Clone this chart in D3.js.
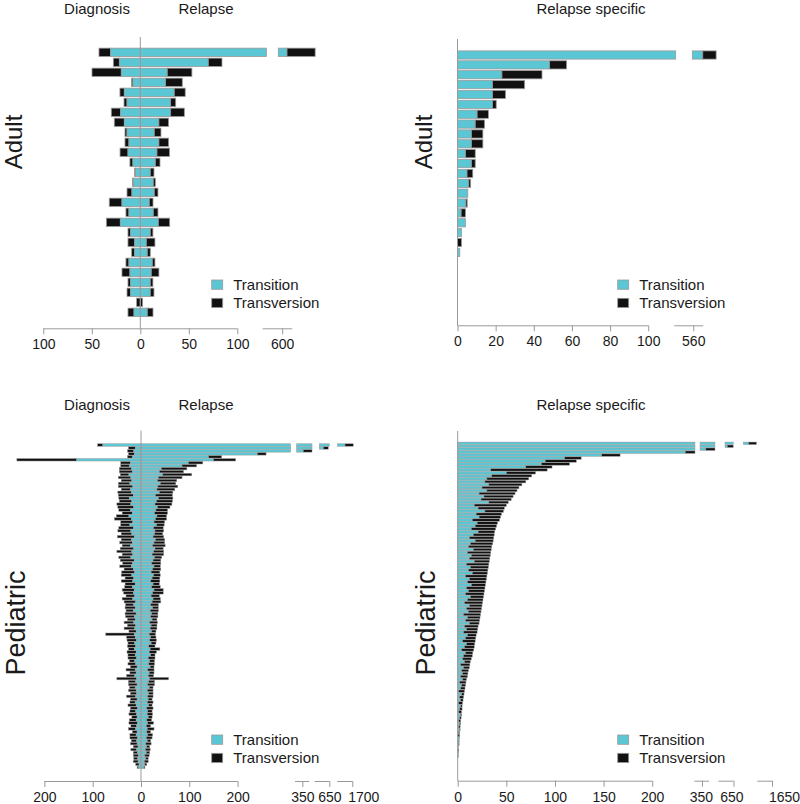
<!DOCTYPE html>
<html><head><meta charset="utf-8">
<script src="https://cdn.jsdelivr.net/npm/d3@7"></script>
<style>body{margin:0;background:#fff}</style>
</head><body><svg id="c" width="800" height="804"></svg>
<script>
// ---------------- DATA ----------------
// Adult: diagnosis vs relapse (27 samples)
const adultDiagTransition   = [30.6,21.6,19.6,7.6,16.5,13.7,20.3,16.5,13.7,11.7,12.7,7.6,4.8,6.9,8.6,18.9,11.7,20.6,10,5.8,5.8,11.7,10.7,10,10,0,6.5];
const adultDiagTransversion = [12,6.2,30.2,1.4,4.5,3.1,9.6,10.3,2.1,4.1,8.2,3.1,1,1,5.1,13.1,3.1,14.4,2.7,6.9,3.1,3.1,8.2,2.7,3.7,3.8,6.2];
const adultRelTransition    = [605,70.1,27.8,26.1,35,31.3,31.3,19.2,14.4,19.2,17.2,15.5,10.3,13.4,14.4,9.3,13.4,18.6,10.3,6.2,7.2,12.4,11.3,10.3,10.3,0,7.2];
const adultRelTransversion  = [29,14.1,25.4,17.2,11.3,5.2,14.1,10,6.9,10,13,4.8,3.8,2.1,3.8,3.8,4.8,11.7,2.7,8.9,3.1,2.7,7.9,2.7,3.8,2.4,5.9];
// Adult: relapse specific
const adultSpecTransition   = [565,48.3,23.3,18.4,18.4,18.4,10.3,9.3,7.3,7.3,4.2,7.3,5,5.9,5.4,4.4,1.9,4.2,2.1,0,1.2,0,0,0,0,0,0];
const adultSpecTransversion = [7,8.9,21,16.8,6.8,1.9,5.9,4.9,6,6,5.1,2,3,1,0,0.7,2.3,0,0,2.1,0,0,0,0,0,0,0];
// Pediatric: diagnosis vs relapse (110 samples)
const pedDiagTransition = [
 79,12,15,14,18,133,22,24,20,18, 25,21,19,23,17,22,20,16,24,19, 21,15,22,18,25,20,17,23,16,21,
 19,14,20,18,22,15,19,17,21,14, 18,20,16,13,19,15,17,12,18,14, 16,13,17,11,15,12,16,10,14,12,
 15,11,13,10,14,12,9,13,11,14, 10,12,9,13,11,8,12,10,13,9, 11,8,12,10,9,11,8,12,10,7,
 11,9,8,10,7,9,11,8,10,7, 9,8,6,9,7,5,7,6,4,5];
const pedDiagTransversion = [
 11,14,13,12,10,124,20,18,25,27, 18,26,22,24,30,19,28,31,22,26, 29,33,24,21,26,35,25,19,30,27,
 22,35,21,26,17,28,31,22,25,29, 20,24,19,27,22,18,24,21,16,25, 20,18,22,24,17,21,15,23,18,16,
 20,17,22,15,59,18,20,14,17,12, 19,15,18,11,16,14,19,13,17,41, 15,18,12,16,13,19,14,11,17,15,
 12,16,11,14,18,12,15,10,13,16, 11,14,10,12,9,11,8,10,7,3];
const pedRelTransition = [
 1685,635,352,241,140,150,98,85,42,38, 45,36,34,40,35,33,38,30,36,32, 29,34,31,28,33,30,27,32,26,29,
 28,25,30,27,24,29,26,23,28,25, 22,27,24,21,26,23,20,25,22,27, 24,21,25,23,20,24,19,22,20,23,
 18,21,19,22,17,20,18,21,16,19, 17,20,15,18,16,19,14,17,15,18, 16,14,17,13,16,14,15,13,16,12,
 14,13,15,12,14,11,13,12,14,11, 13,10,12,9,11,8,10,7,8,6];
const pedRelTransversion = [
 17,10,18,18,27,46,30,30,53,50, 60,49,40,32,41,37,28,35,30,33, 35,26,24,27,20,23,22,16,20,18,
 17,22,19,22,26,17,21,24,15,16, 19,13,17,18,14,16,19,13,18,19, 22,17,15,18,16,12,17,13,15,10,
 16,12,14,9,13,11,14,10,13,20, 15,9,14,10,12,8,13,10,11,39, 12,14,8,12,9,11,8,12,7,13,
 9,11,8,10,12,9,14,8,10,12, 7,11,6,10,7,9,5,8,4,2];
// Pediatric: relapse specific (110 samples)
const pedSpecTransition = [
 1626,638,354,234,148,110,90,86,70,34, 50,35,30,28,32,25,30,22,27,24, 32,17,21,28,19,22,15,20,18,14,
 21,16,12,18,13,11,16,10,14,12, 17,9,13,11,15,8,12,10,14,9, 11,8,13,10,7,12,9,11,6,10,
 8,12,7,9,6,10,8,5,9,7, 4,8,6,5,7,3,6,4,5,3, 5,2,4,3,1,4,2,3,1,3,
 2,1,3,2,1,2,1,2,1,0, 2,1,1,1,0,1,1,0,0,0];
const pedSpecTransversion = [
 8,6,9.4,10,19,17,32,29,27,58, 30,41,43,42,34,38,31,37,30,31, 20,33,27,19,26,22,28,21,22,25,
 17,21.5,25,18.5,23,24,18.5,24,19.5,21, 15.5,23,18.5,20,15.5,22,17.5,19,14.5,19, 16.5,19,13.5,16,18.5,13,15.5,13,17.5,13,
 14.5,10,14,11.5,14,9,10.5,13,8.5,10, 12.5,7.5,9,9,6,9.5,6,7,5.5,7, 4,6.5,4,4.5,6,2.5,4,2.5,4,1.5,
 2.5,3,1,1.5,2,1,1.5,0.5,1,2, 0,0.5,0.5,0,1,0,0,0,0,0];
// Axis ticks
const diagRelTicksAdult = [-100,-50,0,50,100];
const specTicksAdult = [0,20,40,60,80,100];
const diagRelTicksPed = [-200,-100,0,100,200];
const specTicksPed = [0,50,100,150,200];
const breakTicksAdultDR = [600];
const breakTicksAdultSpec = [560];
const breakTicksPedDR = [350,650,1700];
const breakTicksPedSpec = [350,650,1650];
const legendLabels = ["Transition","Transversion"];

// ---------------- DRAWING ----------------
const FONT = "'Liberation Sans', Arial, Helvetica, sans-serif";
const CYAN = '#5bc7d4', BLACK = '#111111', STROKE = '#9a9a9a', AXIS = '#9a9a9a', TXT = '#1a1a1a';
const FS = '15px', FS_TICK = '14px';
const svg = d3.select('#c').style('font-family', FONT);

function drawBars(g, x, segs, y, bh, rows, sw) {
  rows.forEach((d, i) => {
    const cy = y(i);
    const parts = [];
    if (d.lt !== undefined) {
      parts.push([-(d.lt + d.lv), -d.lt, BLACK]);
      parts.push([-d.lt, 0, CYAN]);
    }
    parts.push([0, d.rt, CYAN]);
    parts.push([d.rt, d.rt + d.rv, BLACK]);
    parts.forEach(([a, b, c]) => {
      if (b - a <= 0) return;
      segs.forEach(([s0, s1]) => {
        const lo = Math.max(a, s0), hi = Math.min(b, s1);
        if (hi > lo) {
          g.append('rect').attr('x', x(lo)).attr('y', cy - bh / 2)
            .attr('width', x(hi) - x(lo)).attr('height', bh)
            .attr('fill', c).attr('stroke', STROKE).attr('stroke-width', sw);
        }
      });
    });
  });
}

function drawAxis(x, yAxis, ticks, lineFrom, lineTo) {
  const g = svg.append('g').attr('transform', `translate(0,${yAxis})`)
    .call(d3.axisBottom(x).tickValues(ticks).tickFormat(v => Math.abs(v)).tickSize(6).tickPadding(5));
  g.select('.domain').remove();
  g.selectAll('.tick line').attr('stroke', AXIS);
  g.selectAll('.tick text').attr('fill', TXT).style('font-size', FS_TICK).style('font-family', FONT);
  g.append('line').attr('x1', lineFrom).attr('x2', lineTo).attr('y1', 0.5).attr('y2', 0.5)
    .attr('stroke', AXIS).attr('stroke-width', 1);
  return g;
}

function drawBreakAxis(x, yAxis, ticks, specs) {
  ticks.forEach((t, k) => {
    const s = specs[k];
    const g = drawAxis(x, yAxis, [t], x(t) - s[0], x(t) + s[1]);
    if (s[2]) g.selectAll('.tick text').attr('dx', s[2]);
  });
}

function legend(x0, y0) {
  [CYAN, BLACK].forEach((c, k) => {
    const yy = y0 + k * 18.3;
    svg.append('rect').attr('x', x0).attr('y', yy).attr('width', 11).attr('height', 9.3)
      .attr('fill', c).attr('stroke', STROKE).attr('stroke-width', 0.8);
    svg.append('text').attr('x', x0 + 21.5).attr('y', yy + 10).text(legendLabels[k])
      .attr('fill', TXT).style('font-size', FS);
  });
}

function title(txt, cx, by) {
  svg.append('text').attr('x', cx).attr('y', by).attr('text-anchor', 'middle')
    .attr('fill', TXT).style('font-size', FS).text(txt);
}
function rowLabel(txt, bx, cy, fs) {
  svg.append('text').attr('transform', `translate(${bx},${cy}) rotate(-90)`)
    .attr('text-anchor', 'middle').attr('fill', TXT).style('font-size', fs).text(txt);
}

// ---- Panel 1: Adult diagnosis/relapse ----
{
  const x = d3.scaleLinear().domain([-100, 0, 130, 596, 650])
    .range([43.3, 140.3, 266.4, 278.3, 278.3 + 54 * 0.97]);
  const segs = [[-100, 130], [596, 650]];
  const y = d3.scalePoint().domain(d3.range(adultRelTransition.length)).range([52.3, 312.3]);
  const rows = adultRelTransition.map((v, i) => ({ lt: adultDiagTransition[i], lv: adultDiagTransversion[i], rt: v, rv: adultRelTransversion[i] }));
  drawBars(svg.append('g'), x, segs, y, y.step() * 0.833, rows, 0.8);
  svg.append('line').attr('x1', x(0)).attr('x2', x(0)).attr('y1', 37).attr('y2', 328.3).attr('stroke', AXIS);
  drawAxis(x, 328.3, diagRelTicksAdult, x(-100), x(100));
  drawBreakAxis(x, 328.3, breakTicksAdultDR, [[19.6, 10, 0]]);
  legend(211.7, 280);
  title('Diagnosis', 97, 14); title('Relapse', 206, 14);
  rowLabel('Adult', 22, 142, '24px');
}
// ---- Panel 2: Adult relapse specific ----
{
  const x = d3.scaleLinear().domain([0, 114.4, 559.5, 600])
    .range([457.5, 675.7, 692.3, 692.3 + 40.5 * 1.907]);
  const segs = [[0, 114.4], [559.5, 600]];
  const y = d3.scalePoint().domain(d3.range(adultSpecTransition.length)).range([55, 311.6]);
  const rows = adultSpecTransition.map((v, i) => ({ rt: v, rv: adultSpecTransversion[i] }));
  drawBars(svg.append('g'), x, segs, y, y.step() * 0.833, rows, 0.8);
  svg.append('line').attr('x1', x(0)).attr('x2', x(0)).attr('y1', 39).attr('y2', 325.3).attr('stroke', AXIS);
  drawAxis(x, 325.3, specTicksAdult, x(0), x(100));
  drawBreakAxis(x, 325.3, breakTicksAdultSpec, [[19, 10, 0]]);
  legend(617.7, 280);
  title('Relapse specific', 591, 14);
  rowLabel('Adult', 432, 142, '24px');
}
// ---- Panel 3: Pediatric diagnosis/relapse ----
{
  const x = d3.scaleLinear().domain([-300, 0, 310, 338.4, 370, 626.4, 647.1, 1669, 1710])
    .range([141 - 300 * 0.483, 141, 290.7, 296.7, 312, 319.3, 329.3, 337.3, 357.1]);
  const segs = [[-300, 310], [338.4, 370], [626.4, 647.1], [1669, 1710]];
  const y = d3.scalePoint().domain(d3.range(pedRelTransition.length)).range([445, 767.3]);
  const rows = pedRelTransition.map((v, i) => ({ lt: pedDiagTransition[i], lv: pedDiagTransversion[i], rt: v, rv: pedRelTransversion[i] }));
  drawBars(svg.append('g'), x, segs, y, y.step() * 0.833, rows, 0.5);
  svg.append('line').attr('x1', x(0)).attr('x2', x(0)).attr('y1', 430.7).attr('y2', 781).attr('stroke', AXIS);
  drawAxis(x, 781, diagRelTicksPed, x(-200), x(200));
  drawBreakAxis(x, 781, breakTicksPedDR, [[7.3, 7, 0], [14.7, 0, 0], [15, 0, 11]]);
  legend(211.7, 735);
  title('Diagnosis', 97, 410); title('Relapse', 206, 410);
  rowLabel('Pediatric', 25, 623, '27px');
}
// ---- Panel 4: Pediatric relapse specific ----
{
  const x = d3.scaleLinear().domain([0, 244, 348, 363.4, 635.6, 644.2, 1620.5, 1640])
    .range([457.7, 695, 700, 715, 725, 733.4, 743.3, 762.3]);
  const segs = [[0, 244], [348, 363.4], [635.6, 644.2], [1620.5, 1640]];
  const y = d3.scalePoint().domain(d3.range(pedSpecTransition.length)).range([443.3, 765]);
  const rows = pedSpecTransition.map((v, i) => ({ rt: v, rv: pedSpecTransversion[i] }));
  drawBars(svg.append('g'), x, segs, y, y.step() * 0.833, rows, 0.5);
  svg.append('line').attr('x1', x(0)).attr('x2', x(0)).attr('y1', 431).attr('y2', 780.7).attr('stroke', AXIS);
  drawAxis(x, 780.7, specTicksPed, x(0), x(200));
  drawBreakAxis(x, 780.7, breakTicksPedSpec, [[7.6, 7.1, -1], [15, 0, -2], [14.7, 0, 12]]);
  legend(617.7, 735);
  title('Relapse specific', 591, 410);
  rowLabel('Pediatric', 435, 623, '27px');
}
</script>
</body></html>
